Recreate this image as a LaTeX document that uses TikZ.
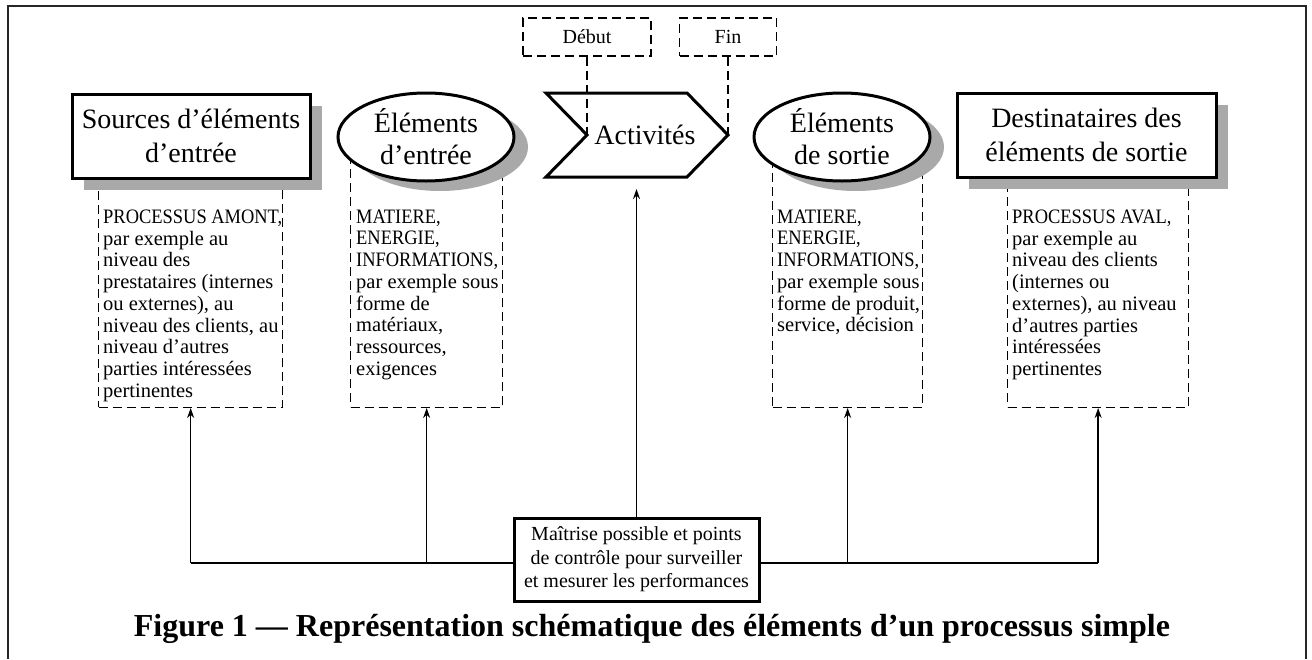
\documentclass[tikz,border=0pt]{standalone}
\usepackage{fontspec}
\usepackage{graphicx}
\setmainfont{Liberation Serif}
\usetikzlibrary{shapes.geometric,shadows,arrows.meta}
\definecolor{shade}{HTML}{A9A9A9}
\newcommand{\capsline}[1]{\scalebox{0.9}[1]{#1}}
\begin{document}
\begin{tikzpicture}[x=1pt,y=-1pt,
  hbox/.style={draw, line width=3pt, fill=white, rectangle, inner sep=0pt, align=center,
    font=\fontsize{28}{34}\selectfont,
    drop shadow={fill=shade, opacity=1, shadow xshift=12pt, shadow yshift=-12pt}},
  hell/.style={draw, line width=3pt, fill=white, ellipse, inner sep=0pt,
    minimum width=176pt, minimum height=88pt,
    drop shadow={fill=shade, opacity=1, shadow xshift=14pt, shadow yshift=-10pt}},
  htext/.style={align=center, inner sep=0pt, font=\fontsize{28}{32}\selectfont},
  dbox/.style={draw, line width=1.3pt, dash pattern=on 9pt off 5pt, rectangle, inner sep=0pt},
  btext/.style={align=left, inner sep=0pt, anchor=north west, font=\fontsize{20.5}{21.75}\selectfont},
  smallbox/.style={draw, line width=1.3pt, dash pattern=on 9pt off 5pt, rectangle, inner sep=0pt,
    font=\fontsize{20}{22}\selectfont},
  dline/.style={line width=1.3pt, dash pattern=on 9pt off 5pt},
  mbox/.style={draw, line width=3pt, fill=white, rectangle, inner sep=0pt, align=center,
    font=\fontsize{20}{23.5}\selectfont,
    drop shadow={fill=black!75, opacity=1, shadow xshift=2pt, shadow yshift=-2pt}},
  arr/.style={line width=1.4pt, -{Stealth[length=10pt,width=7pt]}},
  conn/.style={line width=1.4pt},
  frame/.style={line width=2pt, draw=black!85}
]
\useasboundingbox (0,0) rectangle (1312,659);

% outer frame
\draw[frame] (7.5,659) -- (7.5,5.5) -- (1305.5,5.5) -- (1305.5,659);

% dashed description boxes (top edges hidden under headers)
\node[dbox, minimum width=184pt, minimum height=260pt, anchor=south west] (d1) at (98,408) {};
\node[dbox, minimum width=152pt, minimum height=268pt, anchor=south west] (d2) at (350,408) {};
\node[dbox, minimum width=150pt, minimum height=268pt, anchor=south west] (d3) at (772,408) {};
\node[dbox, minimum width=181pt, minimum height=260pt, anchor=south west] (d4) at (1007,408) {};

\node[btext] (t1) at (103,209.5) {\capsline{PROCESSUS AMONT,}\\par exemple au\\niveau des\\prestataires (internes\\ou externes), au\\niveau des clients, au\\niveau d’autres\\parties intéressées\\pertinentes};
\node[btext] (t2) at (356,209.5) {\capsline{MATIERE,}\\\capsline{ENERGIE,}\\\capsline{INFORMATIONS,}\\par exemple sous\\forme de\\matériaux,\\ressources,\\exigences};
\node[btext] (t3) at (777,209.5) {\capsline{MATIERE,}\\\capsline{ENERGIE,}\\\capsline{INFORMATIONS,}\\par exemple sous\\forme de produit,\\service, décision};
\node[btext] (t4) at (1012,209.5) {\capsline{PROCESSUS AVAL,}\\par exemple au\\niveau des clients\\(internes ou\\externes), au niveau\\d’autres parties\\intéressées\\pertinentes};

% header boxes
\node[hbox, minimum width=238pt, minimum height=84pt] (src) at (191,136) {Sources d’éléments\\d’entrée};
\node[hbox, minimum width=259pt, minimum height=84pt] (dst) at (1086.5,135) {Destinataires des\\éléments de sortie};

\node[hell] (ein) at (426,137) {};
\node[htext] (einT) at (ein.center) {Éléments\\d’entrée};
\node[hell] (eout) at (842,137) {};
\node[htext] (eoutT) at (eout.center) {Éléments\\de sortie};

% activities shape
\coordinate (aTL) at (546,93);
\coordinate (aTR) at (687,93);
\coordinate (aTip) at (728,135);
\coordinate (aBR) at (687,177);
\coordinate (aBL) at (546,177);
\coordinate (aN) at (587,135);
\coordinate (abase) at (637,189);
\fill[shade, xshift=14pt, yshift=-12pt] (aTL) -- (aTR) -- (aTip) -- (aBR) -- (aBL) -- (aN) -- cycle;
\draw[line width=3pt, fill=white, line join=miter] (aTL) -- (aTR) -- (aTip) -- (aBR) -- (aBL) -- (aN) -- cycle;
\node[htext] (act) at (645,135) {Activités};

% start / end
\node[smallbox, minimum width=128pt, minimum height=38pt] (deb) at (587,37) {Début};
\node[smallbox, minimum width=97pt, minimum height=38pt] (fin) at (728,37) {Fin};
\draw[dline] (deb.south) -- (aN);
\draw[dline] (fin.south) -- (aTip);

% control connectors
\coordinate (j1) at (d1.south |- 0,563);
\coordinate (j2) at (d2.south |- 0,563);
\coordinate (j3) at (d3.south |- 0,563);
\coordinate (j4) at (d4.south |- 0,563);
\draw[conn] (j1) -- (j4);
\draw[arr] (j1) -- (d1.south);
\draw[arr] (j2) -- (d2.south);
\draw[arr] (j3) -- (d3.south);
\draw[arr] (j4) -- (d4.south);

\node[mbox, minimum width=245pt, minimum height=83pt] (mait) at (636.5,559.5) {Maîtrise possible et points\\de contrôle pour surveiller\\et mesurer les performances};
\draw[arr] (mait.north) -- (mait.north |- abase);

% caption
\node[anchor=base, inner sep=0pt, font=\bfseries\fontsize{32}{38}\selectfont] (cap) at (652,636) {Figure 1 — Représentation schématique des éléments d’un processus simple};
\end{tikzpicture}
\end{document}
